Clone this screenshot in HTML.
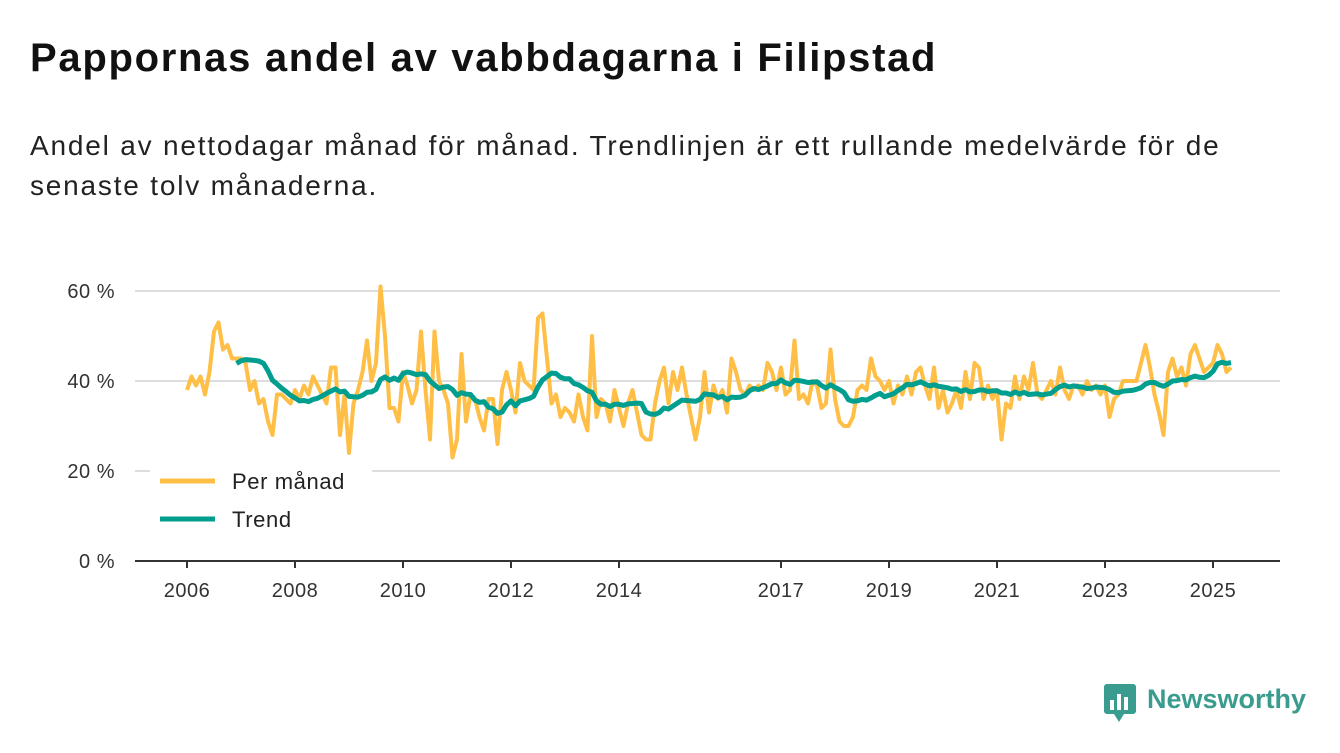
<!DOCTYPE html>
<html><head><meta charset="utf-8"><style>
body{margin:0;width:1340px;height:753px;background:#fff;font-family:"Liberation Sans","DejaVu Sans",sans-serif;overflow:hidden}
h1{position:absolute;left:30px;top:36px;margin:0;font-size:40px;letter-spacing:1.7px;font-weight:bold;color:#111}
p{position:absolute;left:30px;top:126px;margin:0;font-size:28px;letter-spacing:1.8px;line-height:40px;color:#222;width:1245px}
</style></head><body>
<h1>Pappornas andel av vabbdagarna i Filipstad</h1>
<p>Andel av nettodagar månad för månad. Trendlinjen är ett rullande medelvärde för de senaste tolv månaderna.</p>
<svg id="chart" width="1340" height="753" style="position:absolute;left:0;top:0" xmlns="http://www.w3.org/2000/svg"></svg>
<script>
const yTicks=[0,20,40,60];
const yTickLabels=["0 %","20 %","40 %","60 %"];
const xTickYears=[2006,2008,2010,2012,2014,2017,2019,2021,2023,2025];
const startYear=2006;
const monthly=[
38,41,39,41,37,42,51,53,47,48,45,45,
45,44,38,40,35,36,31,28,37,37,36,35,
38,36,39,37,41,39,37,35,43,43,28,37,
24,35,38,42,49,40,44,61,50,34,34,31,
42,39,35,38,51,38,27,51,40,38,35,23,
27,46,31,37,36,32,29,36,36,26,38,42,
38,33,44,40,39,38,54,55,45,35,37,32,
34,33,31,37,32,29,50,32,36,35,31,38,
34,30,35,38,33,28,27,27,35,40,43,35,
42,38,43,37,32,27,32,42,33,39,36,38,
33,45,42,38,37,39,38,39,38,44,42,38,
43,37,38,49,36,37,35,40,39,34,35,47,
36,31,30,30,32,38,39,38,45,41,40,38,
40,35,39,37,41,37,42,43,39,36,43,34,
38,33,35,38,34,42,36,44,43,36,39,36,
38,27,35,34,41,36,41,38,44,37,36,38,
40,37,43,38,36,39,39,37,40,38,39,37,
39,32,36,37,40,40,40,40,44,48,43,37,
33,28,42,45,41,43,39,46,48,45,42,43,
44,48,46,42,43];
const svg=document.getElementById('chart');
const NS='http://www.w3.org/2000/svg';
const x=t=>187+(t-startYear)*54;
const y=v=>561-v*4.5;
function mk(tag,attrs){const e=document.createElementNS(NS,tag);for(const k in attrs)e.setAttribute(k,attrs[k]);svg.appendChild(e);return e;}
yTicks.forEach((v,i)=>{
  if(v>0){const g=mk('line',{x1:135,x2:1280,y1:y(v),y2:y(v),stroke:'#ddd','stroke-width':2});
  
  }
  const t=mk('text',{x:115,y:y(v)+7,'text-anchor':'end','font-size':20,'letter-spacing':0.5,fill:'#333'});t.textContent=yTickLabels[i];
  
  
});
const ax=mk('line',{x1:135,x2:1280,y1:561,y2:561,stroke:'#333','stroke-width':2});


xTickYears.forEach(yr=>{
  const tk=mk('line',{x1:x(yr),x2:x(yr),y1:561,y2:568,stroke:'#333','stroke-width':2});
  
  
  const t=mk('text',{x:x(yr),y:597,'text-anchor':'middle','font-size':20,'letter-spacing':0.5,fill:'#333'});t.textContent=yr;
  
  
});
const pts=monthly.map((v,i)=>x(startYear+i/12).toFixed(1)+','+y(v).toFixed(1));
const ml=mk('polyline',{points:pts.join(' '),fill:'none',stroke:'#ffbf47','stroke-width':4,'stroke-linejoin':'round'});


const tp=[];
for(let i=11;i<monthly.length;i++){let s=0;for(let j=i-11;j<=i;j++)s+=monthly[j];tp.push(x(startYear+i/12).toFixed(1)+','+y(s/12).toFixed(1));}
const tl=mk('polyline',{points:tp.join(' '),fill:'none',stroke:'#009e8e','stroke-width':5,'stroke-linejoin':'round'});


const lb=mk('rect',{x:150,y:462,width:222,height:78,fill:'#fff'});


[['Per månad','#ffbf47',481],['Trend','#009e8e',519]].forEach(([n,c,yy])=>{
  const l=mk('line',{x1:160,x2:215,y1:yy,y2:yy,stroke:c,'stroke-width':5});
  
  
  const t=mk('text',{x:232,y:yy+8,'font-size':22,'letter-spacing':0.6,fill:'#222'});t.textContent=n;
  
  
});
const logo=mk('rect',{x:1104,y:684,width:32,height:30,rx:3,fill:'#3a9c8f'});


const tri=mk('path',{d:'M1114 714 L1124 714 L1119 722 Z',fill:'#3a9c8f'});


[[1110,700,4,10],[1117,694,4,16],[1124,697,4,13]].forEach(b=>{const r=mk('rect',{x:b[0],y:b[1],width:b[2],height:b[3],fill:'#fff'});

});
const lt=mk('text',{x:1147,y:708,'font-size':27,'font-weight':'bold',fill:'#3a9c8f'});lt.textContent='Newsworthy';


</script>
</body></html>
